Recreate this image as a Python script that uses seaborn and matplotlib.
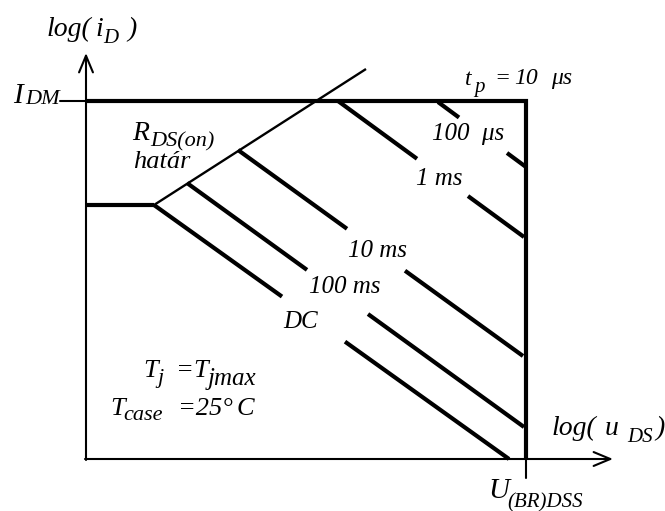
import numpy as np
import pandas as pd
import matplotlib
matplotlib.use("Agg")
import matplotlib.pyplot as plt
import seaborn as sns

sns.set_theme(style="white")
plt.rcParams["font.family"] = ["Liberation Serif", "DejaVu Serif"]

# Schematic safe operating area, in logarithmic units (origin at the axes' corner)
I_DM = 358          # maximum pulsed drain current level
U_BR = 440          # breakdown voltage U_(BR)DSS
I_low = 254         # low-current plateau
knee_x = 68         # where the plateau meets the R_DS(on) limit
rds_x = [68, 280]   # R_DS(on) limit line
rds_y = [254, 390]

# Pulse-length limit lines (start, end) and the gap left for each label
pulse_labels = ["DC", "100 ms", "10 ms", "1 ms", "100  μs"]
line_x0 = [68, 101, 152, 252, 352]
line_y0 = [254, 276, 309, 358, 357]
line_x1 = [423, 438, 437, 438, 440]
line_y1 = [0, 32, 103, 222, 292]
gap_x0 = [196, 221, 261, 331, 373]
gap_x1 = [259, 282, 319, 382, 421]
label_x = [197, 223, 262, 330, 346]
label_y = [131, 166, 202, 274, 319]

# Build the gapped pulse lines as separate segments
rows = []
for i, name in enumerate(pulse_labels):
    xs = [line_x0[i], line_x1[i]]
    ys = [line_y0[i], line_y1[i]]
    ga = np.interp(gap_x0[i], xs, ys)
    gb = np.interp(gap_x1[i], xs, ys)
    rows += [(f"{name}-a", line_x0[i], line_y0[i]), (f"{name}-a", gap_x0[i], ga),
             (f"{name}-b", gap_x1[i], gb), (f"{name}-b", line_x1[i], line_y1[i])]
pulses = pd.DataFrame(rows, columns=["seg", "x", "y"])

boundary = pd.DataFrame({
    "seg": ["plateau", "plateau", "outer", "outer", "outer"],
    "x": [0, knee_x, 0, U_BR, U_BR],
    "y": [I_low, I_low, I_DM, I_DM, 0],
})
rds = pd.DataFrame({"x": rds_x, "y": rds_y})

fig = plt.figure(figsize=(6.65, 5.11), dpi=100)
ax = fig.add_axes([0, 0, 1, 1])
ax.set_xlim(-86, 579)
ax.set_ylim(-52, 459)
ax.axis("off")

sns.lineplot(data=pulses, x="x", y="y", units="seg", estimator=None, sort=False,
             color="black", lw=3.0, solid_capstyle="butt", ax=ax, legend=False)
sns.lineplot(data=boundary, x="x", y="y", units="seg", estimator=None, sort=False,
             color="black", lw=3.0, solid_capstyle="butt", solid_joinstyle="miter",
             ax=ax, legend=False)
sns.lineplot(data=rds, x="x", y="y", estimator=None, sort=False,
             color="black", lw=1.7, solid_capstyle="butt", ax=ax, legend=False)

# Axes with open arrow heads and the two tick marks
arrow = dict(arrowstyle="->,head_length=0.6,head_width=0.25", lw=1.5, color="black",
             mutation_scale=20, shrinkA=0, shrinkB=0)
ax.annotate("", xy=(0, 406), xytext=(0, -1), arrowprops=arrow)
ax.annotate("", xy=(527, 0), xytext=(-1, 0), arrowprops=arrow)
ax.plot([-26, 0], [I_DM, I_DM], color="black", lw=1.5)
ax.plot([U_BR, U_BR], [-19, 0], color="black", lw=1.5)


def rich(pieces):
    """Draw italic text built from pieces (text, x, baseline y, size)."""
    for s, x, y, size in pieces:
        ax.text(x, y, s, fontsize=size, style="italic", color="black",
                ha="left", va="baseline")


rich([(name, x, y, 18) for name, x, y in zip(pulse_labels, label_x, label_y)])

rich([("log(", -39, 423, 20), ("i", 9, 423, 20), ("D", 17, 416, 15), (")", 41, 423, 20)])
rich([("I", -73, 356, 21), ("DM", -61, 355, 16)])
rich([("t", 379, 374, 17), ("p", 388, 367, 15), ("=", 408, 375, 17),
      ("10", 428, 375, 17), ("μs", 465, 375, 17)])
rich([("R", 46, 319, 20), ("DS(on)", 64, 313, 16)])
rich([("határ", 47, 291, 19)])
rich([("T", 57, 82, 19), ("j", 71, 76, 16), ("=", 90, 82, 19),
      ("T", 107, 82, 19), ("jmax", 122, 74, 18)])
rich([("T", 24, 44, 19), ("case", 37, 39, 16), ("=25°", 92, 44, 19), ("C", 151, 44, 19)])
rich([("log(", 466, 24, 20), ("u", 519, 24, 20), ("DS", 541, 17, 15), (")", 569, 24, 20)])
rich([("U", 402, -39, 21), ("(BR)DSS", 421, -48, 15)])

fig.savefig("out.png", dpi=100)
